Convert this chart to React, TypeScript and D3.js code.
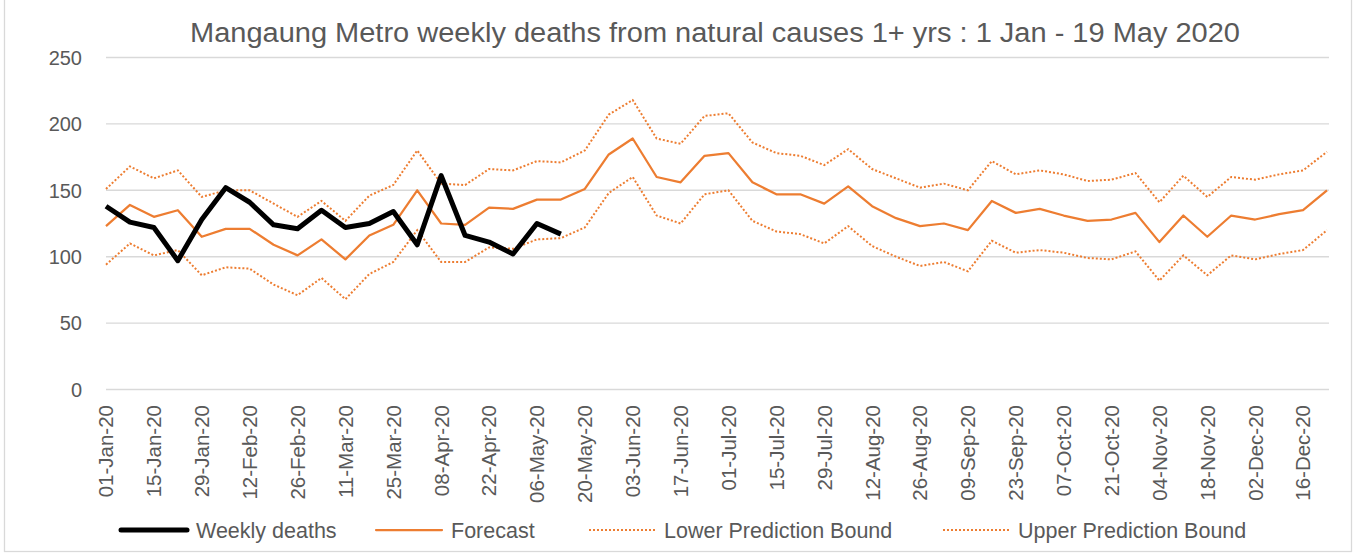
import React from 'react';
import * as d3 from 'd3';

// weekly values (52 weeks, 01-Jan-20 .. 23-Dec-20)
const weeklyDeaths = [138, 126, 122, 97, 128, 152, 141, 124, 121, 135, 122, 125, 134, 109, 161, 116, 111, 102, 125, 117];

const forecast = [
  123, 139, 130, 135, 115, 121, 121, 109, 101, 113, 98, 116, 124, 150, 125, 124, 137, 136, 143, 143,
  151, 177, 189, 160, 156, 176, 178, 156, 147, 147, 140, 153, 138, 129, 123, 125, 120, 142, 133, 136,
  131, 127, 128, 133, 111, 131, 115, 131, 128, 132, 135, 150,
];

const lowerBound = [
  94, 110, 101, 105, 86, 92, 91, 79, 71, 84, 68, 87, 96, 120, 96, 96, 107, 106, 113, 114,
  122, 148, 160, 131, 125, 147, 150, 127, 119, 117, 110, 123, 108, 100, 93, 96, 89, 112, 103, 105,
  103, 99, 98, 104, 82, 101, 86, 101, 98, 102, 105, 120,
];

const upperBound = [
  151, 168, 159, 165, 145, 150, 150, 140, 130, 142, 127, 146, 154, 180, 155, 154, 166, 165, 172, 171,
  180, 207, 218, 189, 185, 206, 208, 186, 178, 176, 169, 181, 166, 159, 152, 155, 150, 172, 162, 165,
  162, 157, 158, 163, 141, 161, 145, 160, 158, 162, 165, 179,
];

// every other week carries a label
const tickLabels = [
  '01-Jan-20', '15-Jan-20', '29-Jan-20', '12-Feb-20', '26-Feb-20', '11-Mar-20', '25-Mar-20',
  '08-Apr-20', '22-Apr-20', '06-May-20', '20-May-20', '03-Jun-20', '17-Jun-20', '01-Jul-20',
  '15-Jul-20', '29-Jul-20', '12-Aug-20', '26-Aug-20', '09-Sep-20', '23-Sep-20', '07-Oct-20',
  '21-Oct-20', '04-Nov-20', '18-Nov-20', '02-Dec-20', '16-Dec-20',
];

const yTicks = [0, 50, 100, 150, 200, 250];

const chartTitle = 'Mangaung Metro weekly deaths from natural causes 1+ yrs : 1 Jan - 19 May 2020';

const ORANGE = '#ED7D31';
const GREY_TEXT = '#595959';
const FONT = '"Liberation Sans", Arial, sans-serif';

const App = () => {
  const width = 1353;
  const height = 554;

  const weeks = d3.range(forecast.length);

  const xScale = d3.scalePoint<number>().domain(weeks).range([106, 1327]);
  const yScale = d3.scaleLinear().domain([0, 250]).range([389.5, 57.5]);

  const line = d3
    .line<number>()
    .x((_, i) => xScale(i) as number)
    .y((d) => yScale(d));

  // legend entries
  const legend = [
    { label: 'Weekly deaths', x: 121, color: '#000', w: 5, dash: undefined },
    { label: 'Forecast', x: 376, color: ORANGE, w: 2.25, dash: undefined },
    { label: 'Lower Prediction Bound', x: 589, color: ORANGE, w: 2, dash: '2 2' },
    { label: 'Upper Prediction Bound', x: 943, color: ORANGE, w: 2, dash: '2 2' },
  ];

  return (
    <svg
      width={width}
      height={height}
      style={{ position: 'absolute', left: 0, top: 0, background: '#fff' }}
      fontFamily={FONT}
    >
      {/* chart border */}
      <rect x={4.5} y={-2} width={1347} height={553.5} fill="#fff" stroke="#D9D9D9" strokeWidth={1.3} />

      {/* title */}
      <text x={715} y={42} textAnchor="middle" fontSize={27} fill={GREY_TEXT} textLength={1050} lengthAdjust="spacingAndGlyphs">
        {chartTitle}
      </text>

      {/* gridlines + y labels */}
      {yTicks.map((t) => (
        <g key={t}>
          <line x1={106} x2={1329} y1={yScale(t)} y2={yScale(t)} stroke="#D9D9D9" strokeWidth={1.4} />
          <text x={82} y={yScale(t)} dy="0.36em" textAnchor="end" fontSize={20} fill={GREY_TEXT}>
            {t}
          </text>
        </g>
      ))}

      {/* x labels */}
      {tickLabels.map((lab, k) => {
        const x = xScale(k * 2) as number;
        return (
          <text
            key={lab}
            transform={`translate(${x},405) rotate(-90)`}
            dy="0.36em"
            textAnchor="end"
            fontSize={20.5}
            fill={GREY_TEXT}
          >
            {lab}
          </text>
        );
      })}

      {/* series */}
      <path d={line(lowerBound) || ''} fill="none" stroke={ORANGE} strokeWidth={2} strokeDasharray="2 2" />
      <path d={line(upperBound) || ''} fill="none" stroke={ORANGE} strokeWidth={2} strokeDasharray="2 2" />
      <path d={line(forecast) || ''} fill="none" stroke={ORANGE} strokeWidth={2.25} strokeLinejoin="round" />
      <path d={line(weeklyDeaths) || ''} fill="none" stroke="#000" strokeWidth={5} strokeLinejoin="round" />

      {/* legend */}
      {legend.map((item) => (
        <g key={item.label}>
          <line
            x1={item.x}
            x2={item.x + 66}
            y1={530}
            y2={530}
            stroke={item.color}
            strokeWidth={item.w}
            strokeDasharray={item.dash}
            strokeLinecap={item.dash ? 'butt' : 'round'}
          />
          <text x={item.x + 75} y={530} dy="0.36em" fontSize={21.5} fill={GREY_TEXT}>
            {item.label}
          </text>
        </g>
      ))}
    </svg>
  );
};

export default App;
